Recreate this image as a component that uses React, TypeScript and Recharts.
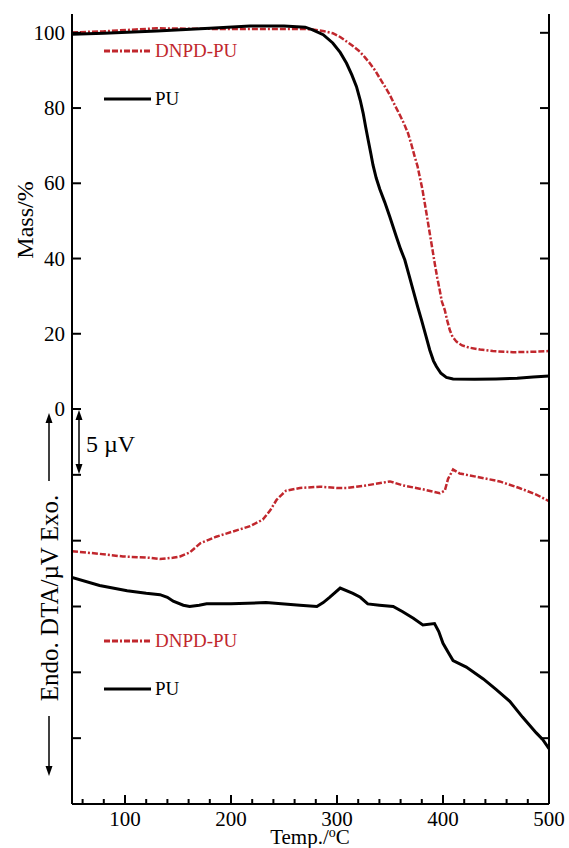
import React from 'react';
import { LineChart, Line, XAxis, YAxis, Legend } from 'recharts';

// TGA (top panel)
const tgaPuTemp = [50, 80, 130, 180, 218, 250, 270, 277, 287, 296, 303, 309, 314, 318.4, 322, 324.7, 327, 329.4, 332, 334, 337, 340.4, 345, 349.8, 356, 360, 364, 368, 371.8, 376, 379.7, 384, 387.5, 391, 393.8, 398, 403.2, 409.5, 430, 450, 470, 485, 500];
const tgaPuMass = [99.6, 99.9, 100.5, 101.2, 101.8, 101.8, 101.5, 100.8, 99.5, 97.3, 94.8, 91.9, 88.8, 85.7, 82, 78.6, 75, 71.5, 67.8, 64.8, 61.4, 58.4, 55, 51.1, 45.8, 42.5, 39.6, 35.5, 31.6, 27.3, 23.7, 19.3, 15.7, 12.8, 11.3, 9.5, 8.4, 8.0, 7.9, 8.0, 8.2, 8.5, 8.8];
const tgaDnpdTemp = [50, 80, 110, 130, 160, 200, 240, 270, 277, 288, 296, 303, 309, 315, 321.5, 326, 331, 336, 340.4, 345, 349.8, 355, 359.2, 363, 367, 370, 373.3, 376, 378, 380.5, 382.8, 385, 387.5, 390, 392.2, 394.5, 396.9, 399, 401.7, 404, 406.4, 409, 412.7, 418, 425, 435, 447, 466, 485, 500];
const tgaDnpdMass = [100.1, 100.4, 100.9, 101.2, 101.1, 101.0, 101.0, 101.0, 100.9, 100.4, 99.9, 98.9, 97.7, 96.5, 95.0, 93.6, 91.9, 90.0, 87.9, 85.8, 83.5, 80.5, 78.2, 76, 73.3, 70.5, 67.1, 64.5, 61.8, 58.5, 54.7, 51, 46.7, 42.5, 38.7, 35, 31.6, 28.5, 26.3, 23.5, 21.0, 19.2, 17.9, 16.9, 16.3, 15.8, 15.4, 15.1, 15.2, 15.4];

// DTA (bottom panel), µV with arbitrary offset
const dtaPuTemp = [50, 76, 102, 120, 133, 140, 145.5, 155, 161, 170, 177, 200, 233, 265, 281, 287, 293, 303, 315, 322, 329, 340, 353, 362, 372, 381, 392, 396, 400, 405, 409.5, 422, 438, 450, 463, 475, 488, 494, 500];
const dtaPuSignal = [17.2, 16.6, 16.2, 16.0, 15.9, 15.7, 15.4, 15.1, 15.0, 15.1, 15.2, 15.2, 15.3, 15.1, 15.0, 15.3, 15.7, 16.4, 16.0, 15.7, 15.2, 15.1, 15.0, 14.6, 14.1, 13.6, 13.7, 13.1, 12.2, 11.5, 10.9, 10.4, 9.5, 8.7, 7.8, 6.6, 5.4, 4.9, 4.2];
const dtaDnpdTemp = [50, 76, 98, 123, 133, 145, 152, 161, 171, 186, 202, 218, 230, 237, 243, 248, 252, 265, 284, 300, 309, 328, 350, 362, 381, 397, 401.7, 404.8, 409.5, 415.8, 435, 453.5, 472, 488, 500];
const dtaDnpdSignal = [19.2, 19.0, 18.8, 18.7, 18.6, 18.7, 18.8, 19.1, 19.8, 20.3, 20.7, 21.1, 21.6, 22.3, 23.1, 23.5, 23.8, 24.0, 24.1, 24.0, 24.0, 24.2, 24.5, 24.2, 23.9, 23.6, 23.8, 24.7, 25.4, 25.1, 24.8, 24.5, 24.0, 23.5, 23.0];

const xTicks = [60, 80, 100, 120, 140, 160, 180, 200, 220, 240, 260, 280, 300, 320, 340, 360, 380, 400, 420, 440, 460, 480, 500];
const massTicks = [0, 20, 40, 60, 80, 100];
const dtaTicks = [5, 10, 15, 20, 25];

const toRows = (t: number[], v: number[]) => t.map((x, i) => ({ t: x, v: v[i] }));

const RED = '#c1272d';
const FONT = '"Liberation Serif", "Times New Roman", serif';
const DASH = '6 2 6 2 2 2';
const axisLine = { stroke: '#000', strokeWidth: 2 };

const makeXTick = (showLabel: boolean) => (p: any) => {
  const major = p.payload.value % 100 === 0;
  return (
    <g>
      <line x1={p.x} x2={p.x} y1={p.y} y2={p.y - (major ? 9 : 5)} stroke="#000" strokeWidth={2} />
      {showLabel && major && (
        <text x={p.x} y={p.y + 22} textAnchor="middle" fontSize={21} fontFamily={FONT} fill="#000">
          {p.payload.value}
        </text>
      )}
    </g>
  );
};

const makeLeftTick = (showLabel: boolean) => (p: any) => (
  <g>
    <line x1={p.x} x2={p.x + 9} y1={p.y} y2={p.y} stroke="#000" strokeWidth={2} />
    {showLabel && (
      <text x={p.x - 7} y={p.y + 7} textAnchor="end" fontSize={21} fontFamily={FONT} fill="#000">
        {p.payload.value}
      </text>
    )}
  </g>
);

const rightTick = (p: any) => (
  <line x1={p.x} x2={p.x - 9} y1={p.y} y2={p.y} stroke="#000" strokeWidth={2} />
);

const legendBox = () => (
  <svg width={140} height={80} style={{ overflow: 'visible' }}>
    <line x1={4} x2={51} y1={16} y2={16} stroke={RED} strokeWidth={3} strokeDasharray={DASH} />
    <text x={55} y={22} fill={RED} fontSize={19} fontFamily={FONT}>DNPD-PU</text>
    <line x1={4} x2={51} y1={64} y2={64} stroke="#000" strokeWidth={3} />
    <text x={55} y={70} fill="#000" fontSize={19} fontFamily={FONT}>PU</text>
  </svg>
);

const Arrow = ({ x, y1, y2 }: { x: number; y1: number; y2: number }) => {
  // arrow from y1 to y2, head at y2
  const dir = y2 < y1 ? 1 : -1;
  return (
    <g>
      <line x1={x} x2={x} y1={y1} y2={y2 + dir * 6} stroke="#000" strokeWidth={1.5} />
      <polygon points={`${x},${y2} ${x - 3.5},${y2 + dir * 10} ${x + 3.5},${y2 + dir * 10}`} fill="#000" />
    </g>
  );
};

export default function App() {
  return (
    <div style={{ position: 'absolute', left: 0, top: 0, width: 569, height: 848, background: '#fff', fontFamily: FONT }}>
      <div style={{ position: 'absolute', left: 0, top: 0 }}>
        <LineChart width={569} height={440} margin={{ top: 14, right: 0, bottom: 31, left: 0 }}>
          <XAxis dataKey="t" type="number" domain={[50, 500]} ticks={xTicks} interval={0} height={0}
            tickSize={0} tickMargin={0} tickLine={false} axisLine={axisLine} tick={makeXTick(false)} allowDataOverflow />
          <XAxis xAxisId="top" orientation="top" dataKey="t" type="number" domain={[50, 500]} height={0}
            tick={false} tickLine={false} axisLine={axisLine} />
          <YAxis yAxisId="l" type="number" domain={[0, 105]} ticks={massTicks} interval={0} width={72}
            tickSize={0} tickMargin={0} tickLine={false} axisLine={axisLine} tick={makeLeftTick(true)} allowDataOverflow />
          <YAxis yAxisId="r" orientation="right" type="number" domain={[0, 105]} ticks={massTicks} interval={0} width={20}
            tickSize={0} tickMargin={0} tickLine={false} axisLine={axisLine} tick={rightTick} allowDataOverflow />
          <Legend layout="vertical" align="center" verticalAlign="middle" content={legendBox}
            wrapperStyle={{ left: 100, top: 35, width: 140, height: 80 }} />
          <Line yAxisId="l" data={toRows(tgaDnpdTemp, tgaDnpdMass)} dataKey="v" stroke={RED} strokeWidth={2.5}
            strokeDasharray={DASH} dot={false} isAnimationActive={false} />
          <Line yAxisId="l" data={toRows(tgaPuTemp, tgaPuMass)} dataKey="v" stroke="#000" strokeWidth={3}
            dot={false} isAnimationActive={false} />
        </LineChart>
      </div>
      <div style={{ position: 'absolute', left: 0, top: 400 }}>
        <LineChart width={569} height={448} margin={{ top: 9, right: 0, bottom: 0, left: 0 }}>
          <XAxis dataKey="t" type="number" domain={[50, 500]} ticks={xTicks} interval={0} height={44}
            tickSize={0} tickMargin={0} tickLine={false} axisLine={axisLine} tick={makeXTick(true)} allowDataOverflow />
          <YAxis yAxisId="l" type="number" domain={[0, 30]} ticks={dtaTicks} interval={0} width={72}
            tickSize={0} tickMargin={0} tickLine={false} axisLine={axisLine} tick={makeLeftTick(false)} allowDataOverflow />
          <YAxis yAxisId="r" orientation="right" type="number" domain={[0, 30]} ticks={dtaTicks} interval={0} width={20}
            tickSize={0} tickMargin={0} tickLine={false} axisLine={axisLine} tick={rightTick} allowDataOverflow />
          <Legend layout="vertical" align="center" verticalAlign="middle" content={legendBox}
            wrapperStyle={{ left: 100, top: 225, width: 140, height: 80 }} />
          <Line yAxisId="l" data={toRows(dtaDnpdTemp, dtaDnpdSignal)} dataKey="v" stroke={RED} strokeWidth={2.5}
            strokeDasharray={DASH} dot={false} isAnimationActive={false} />
          <Line yAxisId="l" data={toRows(dtaPuTemp, dtaPuSignal)} dataKey="v" stroke="#000" strokeWidth={3}
            dot={false} isAnimationActive={false} />
        </LineChart>
      </div>
      <svg width={569} height={848} style={{ position: 'absolute', left: 0, top: 0, pointerEvents: 'none' }}>
        <text transform="translate(33,220) rotate(-90)" textAnchor="middle" fontSize={24} fontFamily={FONT} fill="#000">
          Mass/%
        </text>
        <text transform="translate(58,598) rotate(-90)" textAnchor="middle" fontSize={25} fontFamily={FONT} fill="#000">
          Endo. DTA/µV Exo.
        </text>
        <Arrow x={49} y1={481} y2={413} />
        <Arrow x={49} y1={716} y2={776} />
        <Arrow x={79} y1={442} y2={410} />
        <Arrow x={79} y1={442} y2={474} />
        <text x={86} y={452} fontSize={24} fontFamily={FONT} fill="#000">5 µV</text>
        <text x={310} y={844} textAnchor="middle" fontSize={21} fontFamily={FONT} fill="#000">
          Temp./<tspan dy={-7} fontSize={14}>o</tspan><tspan dy={7}>C</tspan>
        </text>
      </svg>
    </div>
  );
}
